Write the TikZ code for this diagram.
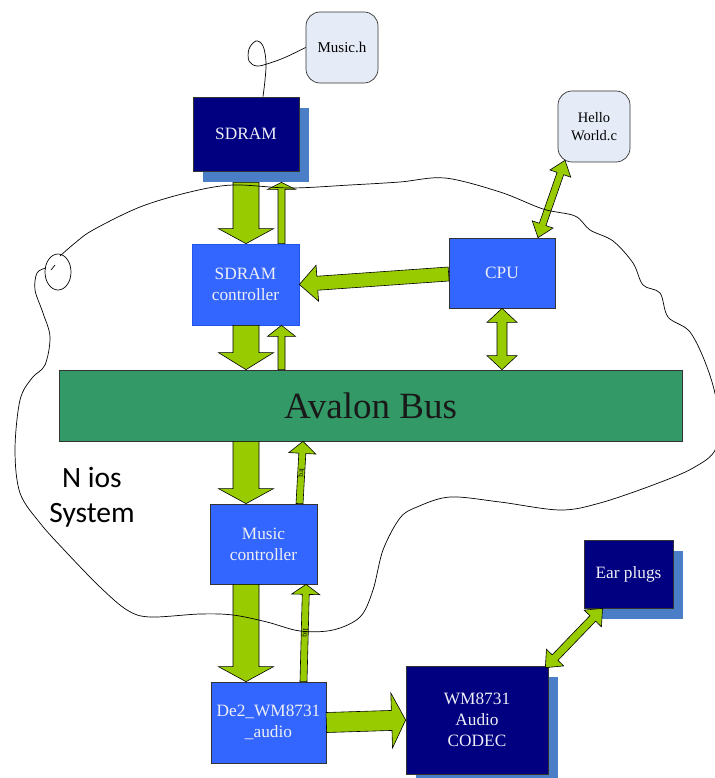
\documentclass[tikz,border=0pt]{standalone}
\usepackage{fontspec}
\setmainfont{Liberation Serif}
\newfontfamily\niosfont{Carlito}
\usetikzlibrary{calc,shadows}
\definecolor{navyc}{HTML}{000080}
\definecolor{bluec}{HTML}{3366FF}
\definecolor{shadc}{HTML}{4A7EC6}
\definecolor{busc}{HTML}{339966}
\definecolor{greenc}{HTML}{99CC00}
\definecolor{filec}{HTML}{E6ECF7}
\definecolor{boxtxt}{HTML}{EEEEF6}
\definecolor{boxline}{HTML}{333333}
\definecolor{ctrlline}{HTML}{2255EE}

\tikzset{
  arrowstyle/.style={fill=greenc, draw=black, line width=0.6pt, line join=miter},
  box/.style={draw=boxline, line width=0.7pt, inner sep=0pt, align=center, text=boxtxt,
              font=\fontsize{17.3}{20.8}\selectfont},
  navybox/.style={box, fill=navyc,
      drop shadow={fill=shadc, opacity=1, shadow xshift=10pt, shadow yshift=-11pt}},
  bluebox/.style={box, fill=bluec},
  filebox/.style={draw=boxline, line width=0.7pt, fill=filec, rounded corners=14pt,
      inner sep=0pt, align=center, text=black},
  irq/.style={inner sep=0pt, rotate=-90, font=\fontsize{7.5}{8}\selectfont, text=black},
  cloud/.style={draw=black, line width=0.7pt}
}

\newcommand\blockarrow[5]{%
  \coordinate (ba-h) at ($(#2)!#5!(#1)$);
  \filldraw[arrowstyle] ($(#1)!#3!90:(#2)$) -- ($(ba-h)!#3!90:(#2)$)
    -- ($(ba-h)!#4!90:(#2)$) -- (#2) -- ($(ba-h)!#4!-90:(#2)$)
    -- ($(ba-h)!#3!-90:(#2)$) -- ($(#1)!#3!-90:(#2)$) -- cycle;}

\newcommand\dblarrow[5]{%
  \coordinate (ba-h) at ($(#2)!#5!(#1)$);
  \coordinate (ba-g) at ($(#1)!#5!(#2)$);
  \filldraw[arrowstyle] (#1) -- ($(ba-g)!#4!90:(#2)$) -- ($(ba-g)!#3!90:(#2)$)
    -- ($(ba-h)!#3!90:(#2)$) -- ($(ba-h)!#4!90:(#2)$) -- (#2)
    -- ($(ba-h)!#4!-90:(#2)$) -- ($(ba-h)!#3!-90:(#2)$)
    -- ($(ba-g)!#3!-90:(#2)$) -- ($(ba-g)!#4!-90:(#2)$) -- cycle;}

\begin{document}
\begin{tikzpicture}[x=1pt,y=-1pt]
\useasboundingbox (0,0) rectangle (714,778);

% nodes
\node[navybox, minimum width=106pt, minimum height=74pt] (sdram) at (246,134) {SDRAM};
\node[filebox, minimum width=72pt, minimum height=71pt, font=\fontsize{15}{17}\selectfont] (musich) at (342,47.5) {Music.h};
\node[filebox, minimum width=72pt, minimum height=71pt, font=\fontsize{14.5}{17.7}\selectfont] (hello) at (594,126.5) {Hello\\World.c};
\node[bluebox, minimum width=106pt, minimum height=70pt] (cpu) at (502,273) {CPU};
\node[bluebox, draw=ctrlline, minimum width=107pt, minimum height=81pt] (sdctrl) at (245.5,284.5) {SDRAM\\controller};
\node[box, fill=busc, text=black!90, minimum width=623pt, minimum height=71pt, font=\fontsize{37}{40}\selectfont] (bus) at (370.5,405.5) {Avalon Bus};
\node[bluebox, minimum width=107pt, minimum height=80pt] (musicctrl) at (263.5,544) {Music\\controller};
\node[bluebox, minimum width=115pt, minimum height=81pt] (de2) at (268.5,722.5) {De2\_WM8731\\\_audio};
\node[navybox, minimum width=142pt, minimum height=108pt] (codec) at (477,720) {WM8731\\Audio\\CODEC};
\node[navybox, minimum width=89pt, minimum height=68pt] (ear) at (628.5,574) {Ear plugs};
\node[inner sep=0pt, align=center, font=\niosfont\fontsize{29.5}{35}\selectfont] (nios) at (92,497.5) {N ios\\System};

% arrow end points
\coordinate (xbig) at (246,0);
\coordinate (xthin) at (281.5,0);
\coordinate (xq) at (263,0);
\coordinate (a1s) at ($(sdram.south)+(0,11)$);
\coordinate (a1e) at (sdctrl.north -| xbig);
\coordinate (a2s) at (sdctrl.north -| xthin);
\coordinate (a2e) at ($(sdram.south -| xthin)+(0,11)$);
\coordinate (a3s) at (sdctrl.south -| xbig);
\coordinate (a3e) at (bus.north -| xbig);
\coordinate (a4s) at (bus.north -| xthin);
\coordinate (a4e) at (sdctrl.south -| xthin);
\coordinate (a5s) at ($(cpu.west)+(0,1)$);
\coordinate (a5e) at (sdctrl.east);
\coordinate (a6s) at (cpu.south);
\coordinate (a6e) at (bus.north -| cpu.south);
\coordinate (a7s) at ($(cpu.north)+(36,0)$);
\coordinate (a7e) at ($(hello.south)+(-29,-2)$);
\coordinate (a8s) at (bus.south -| xbig);
\coordinate (a8e) at (musicctrl.north -| xbig);
\coordinate (a9s) at ($(musicctrl.north)+(36,0)$);
\coordinate (a9e) at ($(bus.south)+(-67.5,0)$);
\coordinate (a10s) at (musicctrl.south -| xbig);
\coordinate (a10e) at (de2.north -| xbig);
\coordinate (a11s) at ($(de2.north)+(35,0)$);
\coordinate (a11e) at ($(musicctrl.south)+(42.5,0)$);
\coordinate (a12s) at (de2.east);
\coordinate (a12e) at (codec.west);
\coordinate (a13s) at ($(codec.north east)+(-3,2)$);
\coordinate (a13e) at ($(ear.south)+(-26,0)$);

% arrows
\blockarrow{a1s}{a1e}{13pt}{27.5pt}{15pt}
\blockarrow{a2s}{a2e}{3.5pt}{14pt}{7pt}
\blockarrow{a3s}{a3e}{13pt}{27.5pt}{17pt}
\blockarrow{a4s}{a4e}{3.5pt}{14pt}{11pt}
\blockarrow{a5s}{a5e}{7pt}{18pt}{18pt}
\dblarrow{a6s}{a6e}{5pt}{15pt}{14pt}
\dblarrow{a7s}{a7e}{3.5pt}{11pt}{14pt}
\blockarrow{a8s}{a8e}{13pt}{27.5pt}{15pt}
\blockarrow{a9s}{a9e}{3.5pt}{13.5pt}{12pt}
\blockarrow{a10s}{a10e}{13pt}{27.5pt}{15pt}
\blockarrow{a11s}{a11e}{3.5pt}{14pt}{10pt}
\blockarrow{a12s}{a12e}{10pt}{27.5pt}{14pt}
\dblarrow{a13s}{a13e}{4pt}{12pt}{14pt}

\node[irq] (irq1) at ($(a9s)!0.5!(a9e)$) {Irq};
\node[irq] (irq2) at ($(a11s)!0.5!(a11e)$) {Irq};

% Music.h link with loop
\draw[cloud] plot[smooth, tension=0.6] coordinates {(musich.west) (286,57) (270,63) (257,66) (249,61) (249,49) (256,41) (263,46) (266,62) (265,80) (xq |- sdram.north)};

% Nios system boundary
\draw[cloud] plot[smooth, tension=0.55] coordinates {
 (60,256) (75,243) (93,230) (140,207) (190,192) (233,185) (290,188) (350,185)
 (400,182) (445,178) (500,192) (543,209) (575,216) (590,230) (613,241) (633,263)
 (643,285) (660,293) (668,317) (690,332) (707,367) (717,405) (716,448) (693,468)
 (653,485) (600,503) (560,510) (500,502) (450,497) (417,507) (400,518) (383,550)
 (373,590) (360,617) (333,630) (300,631) (267,622) (233,615) (200,614) (150,617)
 (127,610) (100,587) (67,553) (40,523) (20,493) (15,450) (20,400) (32,378)
 (45,365) (50,337) (43,313) (35,290) (37,273) (46,268)};
\draw[cloud] (58,272) ellipse [x radius=13, y radius=18];
\draw[cloud] (51,270) -- (55,265);
\end{tikzpicture}
\end{document}
